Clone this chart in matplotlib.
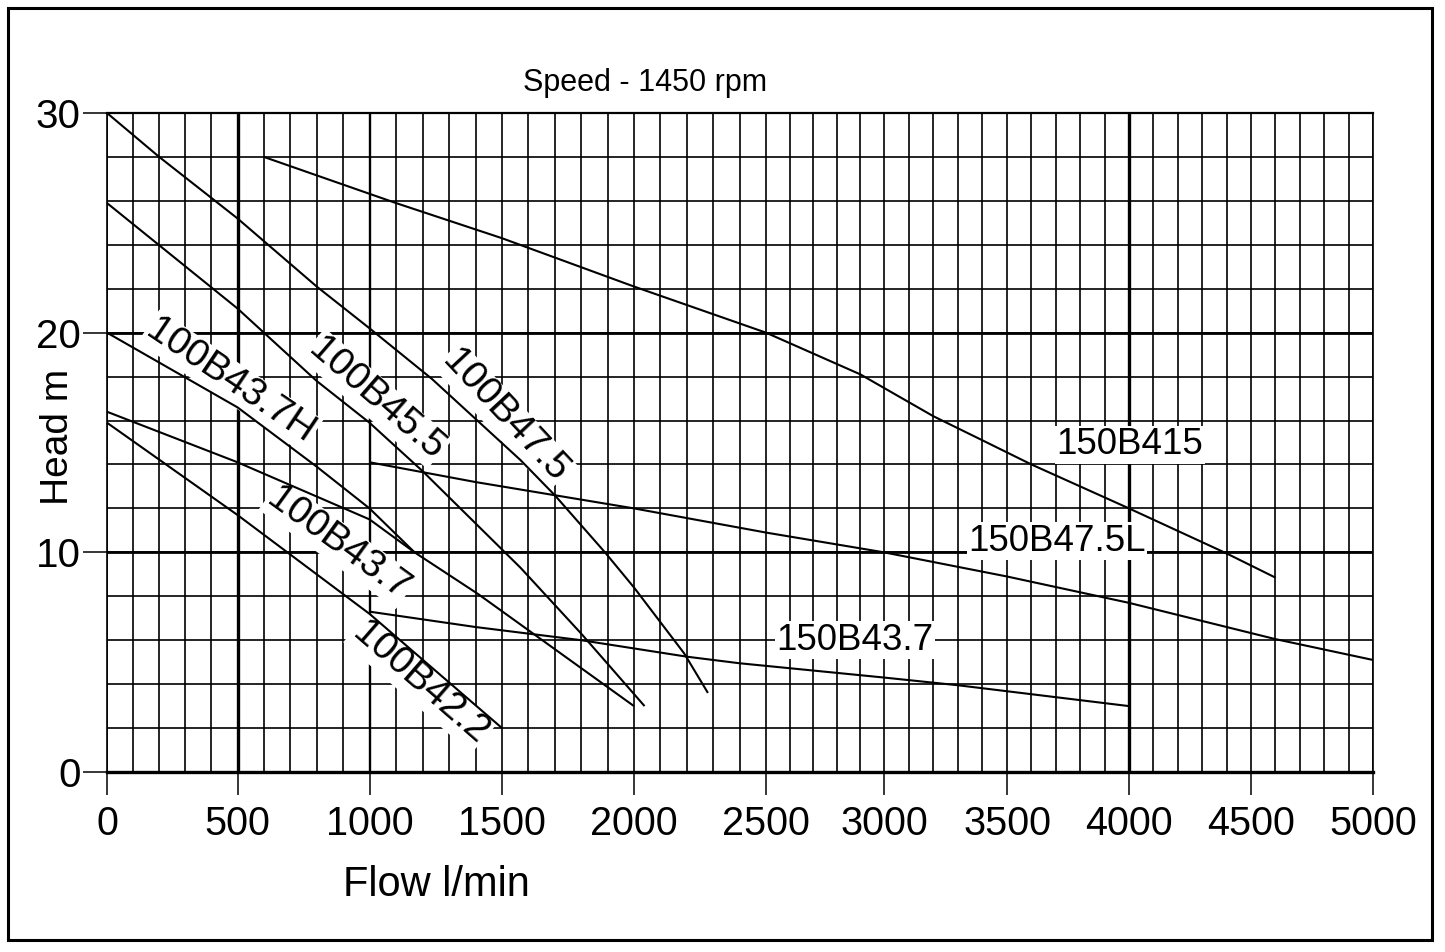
import numpy as np
import matplotlib
matplotlib.use("Agg")
import matplotlib.pyplot as plt
from matplotlib.ticker import MultipleLocator, FixedLocator
from matplotlib.patches import Rectangle

plt.rcParams['font.family'] = ['Liberation Sans', 'DejaVu Sans']

# ---------------- data (flow l/min, head m) ----------------
q_100B42_2 = [0, 500, 1000, 1500]
h_100B42_2 = [15.9, 11.7, 7.2, 2.0]

q_100B43_7 = [0, 500, 1000, 1170, 1410, 2000]
h_100B43_7 = [16.4, 14.1, 11.5, 10.0, 8.1, 3.0]

q_100B43_7H = [0, 500, 800, 1000, 1170]
h_100B43_7H = [20.0, 16.6, 13.9, 12.0, 10.0]

q_100B45_5 = [0, 500, 800, 1000, 1200, 1570, 1800, 2040]
h_100B45_5 = [25.9, 21.1, 17.8, 15.9, 13.7, 9.3, 6.3, 3.0]

q_100B47_5 = [0, 200, 500, 800, 1000, 1235, 1570, 1700, 1890, 2000, 2190, 2280]
h_100B47_5 = [30.0, 28.0, 25.2, 22.1, 20.2, 17.9, 14.2, 12.6, 10.0, 8.4, 5.4, 3.6]

q_150B415 = [600, 1100, 1500, 2000, 2500, 2900, 3200, 3400, 3600, 4000, 4400, 4600]
h_150B415 = [28.0, 25.9, 24.3, 22.1, 20.0, 18.1, 16.2, 15.1, 14.0, 12.0, 9.95, 8.85]

q_150B47_5L = [1000, 1400, 2000, 2500, 3000, 3500, 4000, 4600, 5000]
h_150B47_5L = [14.1, 13.2, 12.0, 10.9, 10.0, 8.9, 7.7, 6.05, 5.1]

q_150B43_7 = [1000, 1400, 1800, 2200, 2400, 3000, 3300, 4000]
h_150B43_7 = [7.3, 6.6, 6.0, 5.25, 4.95, 4.3, 3.95, 3.0]

x_ticks = [0, 500, 1000, 1500, 2000, 2500, 3000, 3500, 4000, 4500, 5000]
x_tick_labels = ["0", "500", "1000", "1500", "2000", "2500", "3000", "3500", "4000", "4500", "5000"]
y_ticks = [0, 10, 20, 30]
y_tick_labels = ["0", "10", "20", "30"]

title_text = "Speed - 1450 rpm"
x_label = "Flow l/min"
y_label = "Head m"

# ---------------- slightly non-uniform flow axis of the original sheet ----------------
WARP_X = np.array([0, 500, 1000, 1500, 2000, 2500, 3000, 3500, 4000, 4500, 5000], float)
WARP_P = np.array([0, 130.5, 262.5, 395, 527, 659, 777, 900, 1022, 1144, 1266], float)


def _pw(x, xs, ps):
    x = np.asarray(x, float)
    y = np.interp(x, xs, ps)
    s0 = (ps[1] - ps[0]) / (xs[1] - xs[0])
    s1 = (ps[-1] - ps[-2]) / (xs[-1] - xs[-2])
    y = np.where(x < xs[0], ps[0] + (x - xs[0]) * s0, y)
    y = np.where(x > xs[-1], ps[-1] + (x - xs[-1]) * s1, y)
    return y


def fwd(x):
    return _pw(x, WARP_X, WARP_P)


def inv(p):
    return _pw(p, WARP_P, WARP_X)


W, H = 1445, 952
fig = plt.figure(figsize=(W / 100, H / 100), dpi=100)
ax = fig.add_axes([107 / W, (H - 772) / H, (1373 - 107) / W, (772 - 113) / H])
ax.set_xscale('function', functions=(fwd, inv))
ax.set_xlim(0, 5000)
ax.set_ylim(0, 30)

# ticks
ax.xaxis.set_major_locator(FixedLocator(x_ticks))
ax.set_xticklabels(x_tick_labels)
ax.xaxis.set_minor_locator(MultipleLocator(100))
ax.yaxis.set_major_locator(FixedLocator(y_ticks))
ax.set_yticklabels(y_tick_labels)
ax.yaxis.set_minor_locator(MultipleLocator(2))
ax.tick_params(axis='x', which='major', direction='out', length=16.5, width=1.1,
               labelsize=28.5, pad=7, colors='black')
ax.tick_params(axis='y', which='major', direction='out', length=17, width=1.1,
               labelsize=29, pad=2, colors='black')
ax.tick_params(which='minor', length=0)

# grid
ax.grid(which='both', color='black', linewidth=1.2, zorder=1)
ax.set_axisbelow(True)
for xv in [500, 4000]:
    ax.axvline(xv, color='black', linewidth=2.4, zorder=1.5)
ax.axvline(1000, color='black', linewidth=1.7, zorder=1.5)
for yv in [10, 20]:
    ax.axhline(yv, color='black', linewidth=2.0, zorder=1.5)

for side in ['left', 'right']:
    ax.spines[side].set_linewidth(1.2)
    ax.spines[side].set_color('black')
ax.spines['top'].set_linewidth(1.6)
ax.spines['bottom'].set_linewidth(2.4)

# curves
curves = [
    (q_100B42_2, h_100B42_2),
    (q_100B43_7, h_100B43_7),
    (q_100B43_7H, h_100B43_7H),
    (q_100B45_5, h_100B45_5),
    (q_100B47_5, h_100B47_5),
    (q_150B415, h_150B415),
    (q_150B47_5L, h_150B47_5L),
    (q_150B43_7, h_150B43_7),
]
for q, h in curves:
    ax.plot(q, h, color='black', linewidth=1.5, zorder=4, solid_joinstyle='round',
            solid_capstyle='butt', clip_on=False)

# curve labels
box = dict(facecolor='white', edgecolor='none', pad=1.0)
rot_labels = [
    ("100B43.7H", 473, 17.8, -34),
    ("100B45.5", 1025, 17.0, -41),
    ("100B47.5", 1511, 16.2, -47),
    ("100B43.7", 883, 10.4, -36),
    ("100B42.2", 1191, 4.05, -41),
]
for txt, xq, yh, rot in rot_labels:
    ax.text(xq, yh, txt, rotation=rot, rotation_mode='anchor', ha='center', va='center',
            fontsize=28, color='black', bbox=box, zorder=3)

flat_labels = [
    ("150B415", 4004, 14.9),
    ("150B47.5L", 3705, 10.5),
    ("150B43.7", 2877, 6.0),
]
for txt, xq, yh in flat_labels:
    ax.text(xq, yh, txt, ha='center', va='center', fontsize=26.5, color='black',
            bbox=box, zorder=3)

# titles
fig.text(645 / W, 1 - 83 / H, title_text, ha='center', va='center', fontsize=22)
fig.text(436 / W, 1 - 885 / H, x_label, ha='center', va='center', fontsize=30)
fig.text(58 / W, 1 - 437 / H, y_label, ha='center', va='center', fontsize=28, rotation=90)

# outer frame
fig.patches.append(Rectangle((8 / W, 1 - 940 / H), (1432 - 8) / W, (940 - 8) / H,
                             transform=fig.transFigure, fill=False, edgecolor='black',
                             linewidth=2.2))

fig.savefig('out.png', dpi=100, facecolor='white')
